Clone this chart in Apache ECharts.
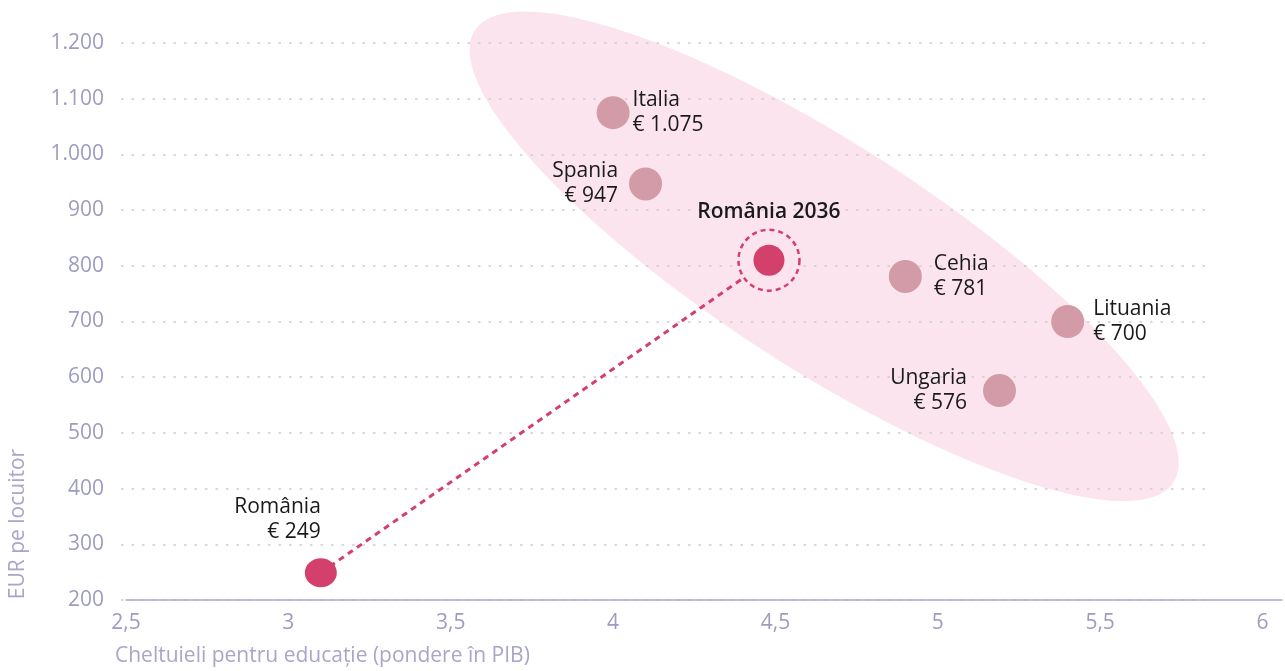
<!DOCTYPE html>
<html>
<head>
<meta charset="utf-8">
<script src="https://cdn.jsdelivr.net/npm/echarts@6/dist/echarts.min.js"></script>
<style>
html,body{margin:0;padding:0;background:#fff;}
#chart{width:1285px;height:671px;}
</style>
</head>
<body>
<div id="chart"></div>
<script>
// ---- data ----
const countries = ['Italia', 'Spania', 'Cehia', 'Lituania', 'Ungaria'];
const countryX = [4.0, 4.1, 4.9, 5.4, 5.19];
const countryY = [1075, 947, 781, 700, 576];
const romaniaNow = { name: 'România', x: 3.1, y: 249 };
const romania2036 = { name: 'România 2036', x: 4.48, y: 810 };
const clusterCenter = [4.65, 817];
const xTicks = [2.5, 3, 3.5, 4, 4.5, 5, 5.5, 6];
const yTicks = [200, 300, 400, 500, 600, 700, 800, 900, 1000, 1100, 1200];

// ---- styles ----
const FONT = '"Open Sans", Lato, sans-serif';
const AXIS_COLOR = '#9e9cc1';
const TEXT_COLOR = '#1a1a1a';
const GREY_PINK = '#d39aa8';
const RED = '#d3406c';
const ELLIPSE_FILL = '#fbe4ee';
const FS = 21;

function thousands(v) { return String(v).replace(/\B(?=(\d{3})+(?!\d))/g, '.'); }
function decComma(v) { return String(v).replace('.', ','); }

const labelCfg = {
  'Italia':   { position: 'right', distance: 3 },
  'Spania':   { position: 'left',  distance: 11 },
  'Cehia':    { position: 'right', distance: 12 },
  'Lituania': { position: 'right', distance: 9 },
  'Ungaria':  { position: 'left',  distance: 16 }
};

const countryData = countries.map((n, i) => ({
  name: n,
  value: [countryX[i], countryY[i]],
  label: labelCfg[n]
}));

const chart = echarts.init(document.getElementById('chart'), null, { renderer: 'canvas' });

const labelBase = {
  show: true,
  color: TEXT_COLOR,
  fontFamily: FONT,
  fontSize: FS,
  lineHeight: 25,
  formatter: p => p.name + '\n€ ' + thousands(p.value[1])
};

const option = {
  backgroundColor: '#fff',
  animation: false,
  grid: [
    { left: 121, right: 80, top: 43, bottom: 71 },
    { left: 126, right: 0, top: 43, bottom: 71 }
  ],
  xAxis: [
    { gridIndex: 0, type: 'value', min: 0, max: 1, show: false },
    {
      gridIndex: 1, type: 'value', min: xTicks[0], max: 6.06, interval: 0.5,
      axisLine: { show: true, lineStyle: { color: '#aaa8cb', width: 1.5 } },
      axisTick: { show: false },
      splitLine: { show: false },
      axisLabel: {
        color: AXIS_COLOR, fontFamily: FONT, fontSize: FS, margin: 13,
        formatter: v => xTicks.some(t => Math.abs(t - v) < 1e-6) ? decComma(v) : ''
      }
    }
  ],
  yAxis: [
    {
      gridIndex: 0, type: 'value', min: yTicks[0], max: yTicks[yTicks.length - 1], interval: 100,
      axisLine: { show: false }, axisTick: { show: false },
      axisLabel: { color: AXIS_COLOR, fontFamily: FONT, fontSize: FS, margin: 17, formatter: v => thousands(v) },
      splitLine: { show: true, lineStyle: { color: '#cdcdcd', width: 1.5, type: [2.5, 8] } }
    },
    { gridIndex: 1, type: 'value', min: yTicks[0], max: yTicks[yTicks.length - 1], show: false }
  ],
  graphic: [
    {
      type: 'text', left: 115, top: 646,
      style: { text: 'Cheltuieli pentru educație (pondere în PIB)', fill: '#a8a6c9', font: FS + 'px ' + FONT }
    },
    {
      type: 'text', x: 18, y: 524, rotation: Math.PI / 2,
      style: { text: 'EUR pe locuitor', fill: '#a8a6c9', font: FS + 'px ' + FONT, align: 'center', verticalAlign: 'middle' }
    }
  ],
  series: [
    {
      type: 'custom', xAxisIndex: 1, yAxisIndex: 1, z: -1, clip: false, silent: true,
      data: [clusterCenter],
      renderItem: (params, api) => {
        const c = api.coord([api.value(0), api.value(1)]);
        const RX = 416, RY = 112, th = 32.9 * Math.PI / 180;
        const cs = Math.cos(th), sn = Math.sin(th);
        const pts = [];
        for (let i = 0; i < 180; i++) {
          const t = i / 180 * Math.PI * 2;
          const ex = RX * Math.cos(t), ey = RY * Math.sin(t);
          pts.push([c[0] + ex * cs - ey * sn, c[1] + ex * sn + ey * cs]);
        }
        return { type: 'polygon', shape: { points: pts }, style: { fill: ELLIPSE_FILL } };
      }
    },
    {
      type: 'line', xAxisIndex: 1, yAxisIndex: 1, z: 2, silent: true,
      symbol: 'none',
      data: [[romaniaNow.x, romaniaNow.y], [romania2036.x, romania2036.y]],
      lineStyle: { color: RED, width: 3, type: [6, 5] }
    },
    {
      type: 'scatter', xAxisIndex: 1, yAxisIndex: 1, z: 3, silent: true,
      symbolSize: 33,
      itemStyle: { color: GREY_PINK, opacity: 1 },
      label: labelBase,
      data: countryData
    },
    {
      type: 'scatter', xAxisIndex: 1, yAxisIndex: 1, z: 3, silent: true,
      symbolSize: [32, 29],
      itemStyle: { color: RED, opacity: 1 },
      label: Object.assign({}, labelBase, { position: 'top', distance: 14, align: 'right' }),
      data: [{ name: romaniaNow.name, value: [romaniaNow.x, romaniaNow.y] }]
    },
    {
      type: 'scatter', xAxisIndex: 1, yAxisIndex: 1, z: 4, silent: true,
      symbolSize: 61,
      itemStyle: { color: ELLIPSE_FILL, borderColor: RED, borderWidth: 2.5, borderType: [5, 4], opacity: 1 },
      label: {
        show: true, position: 'top', distance: 6, color: TEXT_COLOR, fontFamily: FONT,
        fontSize: FS, fontWeight: 600, formatter: '{b}'
      },
      data: [{ name: romania2036.name, value: [romania2036.x, romania2036.y] }]
    },
    {
      type: 'scatter', xAxisIndex: 1, yAxisIndex: 1, z: 5, silent: true,
      symbolSize: 31,
      itemStyle: { color: RED, opacity: 1 },
      data: [{ name: romania2036.name, value: [romania2036.x, romania2036.y] }]
    }
  ]
};

chart.setOption(option);
</script>
</body>
</html>
